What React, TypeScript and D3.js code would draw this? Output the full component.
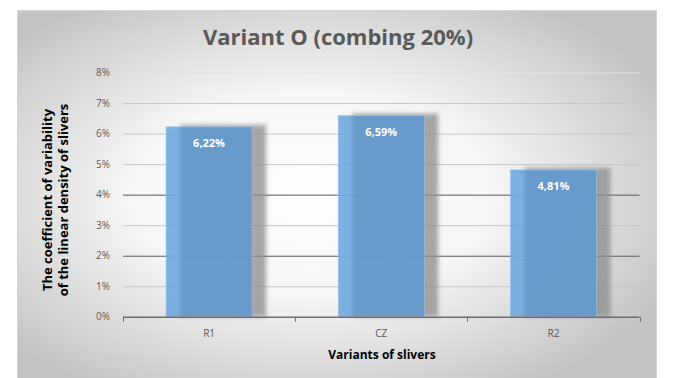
import React from "react";
import * as d3 from "d3";

const categories = ["R1", "CZ", "R2"];
const values = [6.22, 6.59, 4.81];
const yTicks = [0, 1, 2, 3, 4, 5, 6, 7, 8];
const darkGridTicks = [2, 4];
const titleText = "Variant O (combing 20%)";
const xAxisTitle = "Variants of slivers";
const yAxisTitleLines = ["The coefficient of variability", "of the linear density of slivers"];

const W = 680;
const H = 378;
const plot = { left: 123, right: 639.5, top: 72.5, bottom: 316.8 };
const FONT = "'Open Sans', 'DejaVu Sans', sans-serif";

const fmt = (v: number) => v.toFixed(2).replace(".", ",") + "%";

export default function App() {
  const x = d3
    .scaleBand<string>()
    .domain(categories)
    .range([plot.left, plot.right])
    .paddingInner(0.5)
    .paddingOuter(0.25);
  const y = d3.scaleLinear().domain([0, 8]).range([plot.bottom, plot.top]);
  const bounds = d3.scaleLinear().domain([0, categories.length]).range([plot.left, plot.right]);

  return (
    <svg
      width={W}
      height={H}
      style={{ position: "absolute", left: 0, top: 0, display: "block" }}
    >
      <defs>
        <radialGradient id="bg" cx="0.46" cy="0.5" r="0.62">
          <stop offset="0" stopColor="#ffffff" />
          <stop offset="0.45" stopColor="#f6f6f6" />
          <stop offset="1" stopColor="#c4c4c4" />
        </radialGradient>
        <linearGradient id="barFill" x1="0" x2="1" y1="0" y2="0">
          <stop offset="0" stopColor="#74aade" />
          <stop offset="0.13" stopColor="#74aade" />
          <stop offset="0.2" stopColor="#6399cd" />
          <stop offset="1" stopColor="#6399cd" />
        </linearGradient>
        <filter id="shadowBlur" x="-30%" y="-10%" width="160%" height="120%">
          <feGaussianBlur stdDeviation="2.2" />
        </filter>
        <filter id="lineBlur" x="-5%" y="-200%" width="110%" height="500%">
          <feGaussianBlur stdDeviation="1" />
        </filter>
      </defs>

      <rect x={0} y={0} width={W} height={H} fill="#ffffff" />
      <rect x={17} y={10} width={640} height={H - 10} fill="url(#bg)" />
      <rect x={17.5} y={10.5} width={639} height={H} fill="none" stroke="#d4d4d4" strokeWidth={1} />

      {/* title */}
      <text
        x={338}
        y={45}
        textAnchor="middle"
        fontFamily={FONT}
        fontWeight={700}
        fontSize={22}
        fill="#595959"
      >
        {titleText}
      </text>

      {/* gridlines */}
      {yTicks
        .filter((t) => t > 0)
        .map((t) => {
          const dark = darkGridTicks.includes(t);
          return (
            <g key={`g${t}`}>
              {!dark && (
                <line
                  x1={plot.left}
                  x2={plot.right}
                  y1={y(t) + 1.5}
                  y2={y(t) + 1.5}
                  stroke="#d8d8d8"
                  strokeWidth={2}
                  filter="url(#lineBlur)"
                />
              )}
              <line
                x1={plot.left}
                x2={plot.right}
                y1={y(t) + 0.5}
                y2={y(t) + 0.5}
                stroke={dark ? "#5a5a5a" : t === 8 ? "#e4e4e4" : "#c6c6c6"}
                strokeWidth={1}
              />
            </g>
          );
        })}

      {/* bar shadows */}
      {categories.map((c, i) => (
        <rect
          key={`s${c}`}
          x={(x(c) as number) + 14}
          y={y(values[i]) - 2}
          width={x.bandwidth()}
          height={plot.bottom - y(values[i]) + 2}
          fill="#8c8c8c"
          opacity={0.75}
          filter="url(#shadowBlur)"
        />
      ))}

      {/* bars */}
      {categories.map((c, i) => (
        <rect
          key={`b${c}`}
          x={x(c) as number}
          y={y(values[i])}
          width={x.bandwidth()}
          height={plot.bottom - y(values[i])}
          fill="url(#barFill)"
          fillOpacity={0.93}
          stroke="#9cc2e6"
          strokeWidth={0.6}
        />
      ))}

      {/* value labels */}
      {categories.map((c, i) => (
        <text
          key={`l${c}`}
          x={(x(c) as number) + x.bandwidth() / 2}
          y={y(values[i]) + 20}
          textAnchor="middle"
          fontFamily={FONT}
          fontWeight={700}
          fontSize={11}
          fill="#ffffff"
        >
          {fmt(values[i])}
        </text>
      ))}

      {/* x axis */}
      <line
        x1={plot.left}
        x2={plot.right}
        y1={plot.bottom + 0.5}
        y2={plot.bottom + 0.5}
        stroke="#6e6e6e"
        strokeWidth={1.5}
      />
      {d3.range(categories.length + 1).map((k) => (
        <line
          key={`t${k}`}
          x1={Math.round(bounds(k)) + 0.5}
          x2={Math.round(bounds(k)) + 0.5}
          y1={plot.bottom}
          y2={plot.bottom + 5}
          stroke="#6e6e6e"
          strokeWidth={1}
        />
      ))}
      {categories.map((c) => (
        <text
          key={`x${c}`}
          x={(x(c) as number) + x.bandwidth() / 2}
          y={337}
          textAnchor="middle"
          fontFamily={FONT}
          fontSize={10}
          fill="#595959"
        >
          {c}
        </text>
      ))}

      {/* y tick labels */}
      {yTicks.map((t) => (
        <text
          key={`y${t}`}
          x={110}
          y={y(t) + 3.5}
          textAnchor="end"
          fontFamily={FONT}
          fontSize={10}
          fill="#595959"
        >
          {`${t}%`}
        </text>
      ))}

      {/* axis titles */}
      <text
        x={382}
        y={359}
        textAnchor="middle"
        fontFamily={FONT}
        fontWeight={700}
        fontSize={12}
        fill="#000000"
      >
        {xAxisTitle}
      </text>
      <text
        transform="translate(51.5, 200) rotate(-90)"
        textAnchor="middle"
        fontFamily={FONT}
        fontWeight={700}
        fontSize={13}
        fill="#000000"
      >
        {yAxisTitleLines.map((line, i) => (
          <tspan key={i} x={0} dy={i === 0 ? 0 : 16}>
            {line}
          </tspan>
        ))}
      </text>
    </svg>
  );
}
